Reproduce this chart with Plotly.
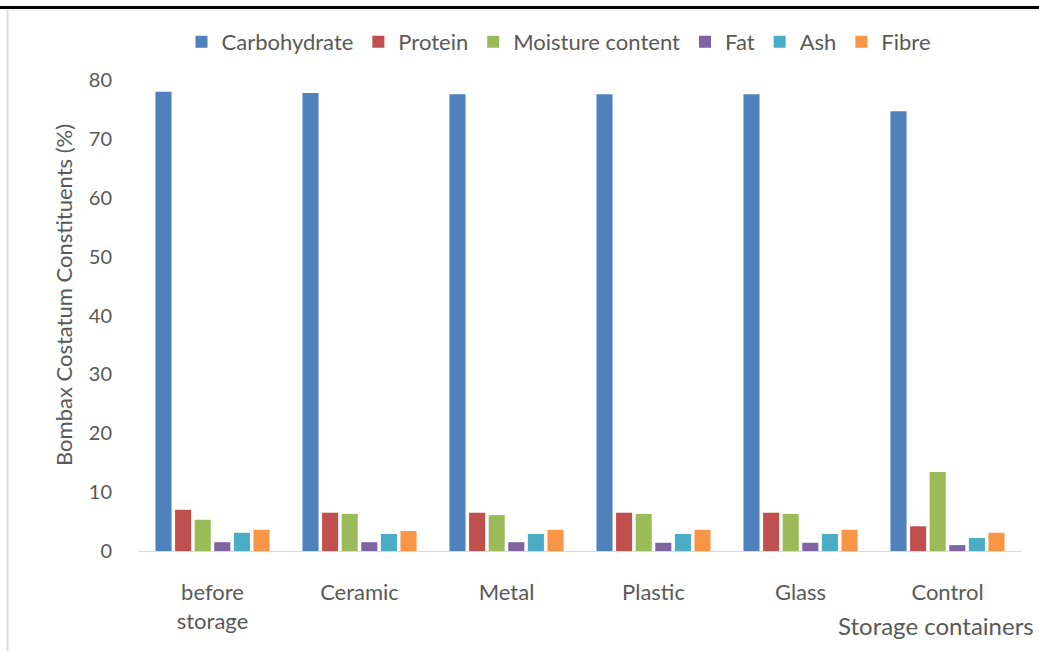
import plotly.graph_objects as go

W, H = 1039, 651

categories = ["before<br>storage", "Ceramic", "Metal", "Plastic", "Glass", "Control"]

carbohydrate = [78.0, 77.8, 77.6, 77.6, 77.6, 74.7]
protein = [7.0, 6.5, 6.5, 6.5, 6.5, 4.2]
moisture = [5.3, 6.3, 6.1, 6.3, 6.3, 13.4]
fat = [1.5, 1.5, 1.5, 1.4, 1.4, 1.0]
ash = [3.1, 2.9, 2.9, 2.9, 2.9, 2.2]
fibre = [3.6, 3.4, 3.6, 3.6, 3.6, 3.1]

series = [
    ("Carbohydrate", carbohydrate, "#4f81bd"),
    ("Protein", protein, "#c0504d"),
    ("Moisture content", moisture, "#9bbb59"),
    ("Fat", fat, "#8064a2"),
    ("Ash", ash, "#4bacc6"),
    ("Fibre", fibre, "#f79646"),
]

FONT = "Lato"
TXT = "#595959"

fig = go.Figure()
for name, vals, col in series:
    fig.add_trace(go.Bar(x=categories, y=vals, name=name, marker_color=col,
                         marker_line_width=0))


def px_x(p):
    return p / W


def px_y(p):
    return 1 - p / H


fig.update_layout(
    width=W, height=H,
    margin=dict(l=0, r=0, t=0, b=0, autoexpand=False),
    paper_bgcolor="white", plot_bgcolor="white",
    barmode="group", bargap=0.2, bargroupgap=0.18,
    font=dict(family=FONT, size=20, color=TXT),
    legend=dict(orientation="h", x=px_x(559), xanchor="center", y=px_y(42), yanchor="middle",
                font=dict(family=FONT, size=22, color=TXT),
                itemwidth=30, tracegroupgap=0, bgcolor="rgba(0,0,0,0)"),
    xaxis=dict(domain=[px_x(139), px_x(1021)], showline=True, linecolor="#d9d9d9",
               linewidth=1, ticks="", showgrid=False, ticklabelstandoff=22,
               automargin=False,
               tickfont=dict(family=FONT, size=22, color=TXT)),
    yaxis=dict(domain=[px_y(551), px_y(80)], range=[0, 80], dtick=10, showgrid=False,
               zeroline=False, showline=False, ticks="", ticklabelstandoff=26,
               automargin=False,
               tickfont=dict(family=FONT, size=20, color=TXT)),
    showlegend=True,
)

fig.add_annotation(text="Bombax Costatum Constituents (%)", textangle=-90,
                   x=px_x(63), y=px_y(295), xref="paper", yref="paper",
                   xanchor="center", yanchor="middle",
                   showarrow=False, font=dict(family=FONT, size=22, color=TXT))
fig.add_annotation(text="Storage containers", x=px_x(1036), y=px_y(625),
                   xref="paper", yref="paper", xanchor="right", yanchor="middle",
                   showarrow=False, font=dict(family=FONT, size=24, color=TXT))

# page rule at the top and frame edge on the left
fig.add_shape(type="line", xref="paper", yref="paper", x0=0, x1=1,
              y0=px_y(7.5), y1=px_y(7.5), line=dict(color="black", width=3))
fig.add_shape(type="line", xref="paper", yref="paper", x0=px_x(7.5), x1=px_x(7.5),
              y0=px_y(10), y1=0, line=dict(color="#d9d9d9", width=2))
fig.add_shape(type="line", xref="paper", yref="paper", x0=px_x(8), x1=1,
              y0=px_y(10.5), y1=px_y(10.5), line=dict(color="#ececec", width=1))

fig.write_html("out.html")
